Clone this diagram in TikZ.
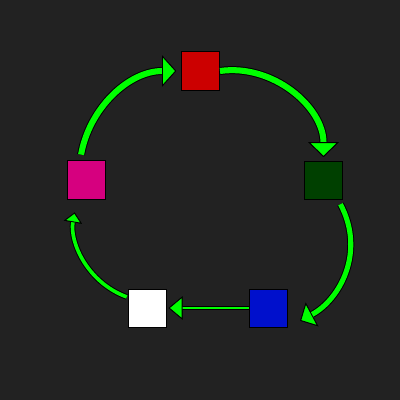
\documentclass[tikz,border=0pt]{standalone}
\usetikzlibrary{arrows.meta}
\definecolor{bgDark}{HTML}{222222}
\definecolor{arrGreen}{HTML}{00FF00}
\definecolor{boxRed}{HTML}{CC0000}
\definecolor{boxGreen}{HTML}{004000}
\definecolor{boxBlue}{HTML}{0010CC}
\definecolor{boxMag}{HTML}{D6007F}
\begin{document}
\begin{tikzpicture}[x=0.025cm,y=0.025cm,
    cycBoxG/.style={rectangle,draw=black,line width=0.7pt,minimum size=0.95cm,inner sep=0pt},
    cycArrG/.style n args={3}{draw=arrGreen,line width=#1,
        -{Triangle[width=#2,length=#3,fill=arrGreen,color=black,line width'=0.6pt]},
        preaction={draw=black,line width=#1+1.4pt,-{Triangle[width=#2,length=#3,line width'=0.6pt]}}},
]
\fill[bgDark] (0,0) rectangle (400,400);
\node[cycBoxG,fill=boxRed] (RD) at (200.5,329) {};
\node[cycBoxG,fill=boxGreen] (GN) at (323.5,219.5) {};
\node[cycBoxG,fill=boxBlue] (BL) at (268,92) {};
\node[cycBoxG,fill=white] (WH) at (147,92) {};
\node[cycBoxG,fill=boxMag] (MG) at (86,220) {};
\draw[cycArrG={4.3pt}{22pt}{10pt},shorten <=0.15cm,shorten >=0.12cm] (MG.107) to[out=80,in=180] (RD.west);
\draw[cycArrG={4.3pt}{21.5pt}{10.5pt},shorten >=0.1cm] (RD.east) to[out=8,in=90] (GN.north);
\draw[cycArrG={3.6pt}{19pt}{9.5pt},shorten <=0.12cm,shorten >=0.36cm] (GN.-53) to[out=-62,in=28,looseness=1.1] (BL.south east);
\draw[cycArrG={1.8pt}{16.5pt}{10pt},shorten >=0.05cm] (BL.west) -- (WH.east);
\draw[cycArrG={2.6pt}{13pt}{7pt},shorten <=0.02cm,shorten >=0.33cm] (WH.151) to[out=160,in=-100] (MG.-115);
\end{tikzpicture}
\end{document}
